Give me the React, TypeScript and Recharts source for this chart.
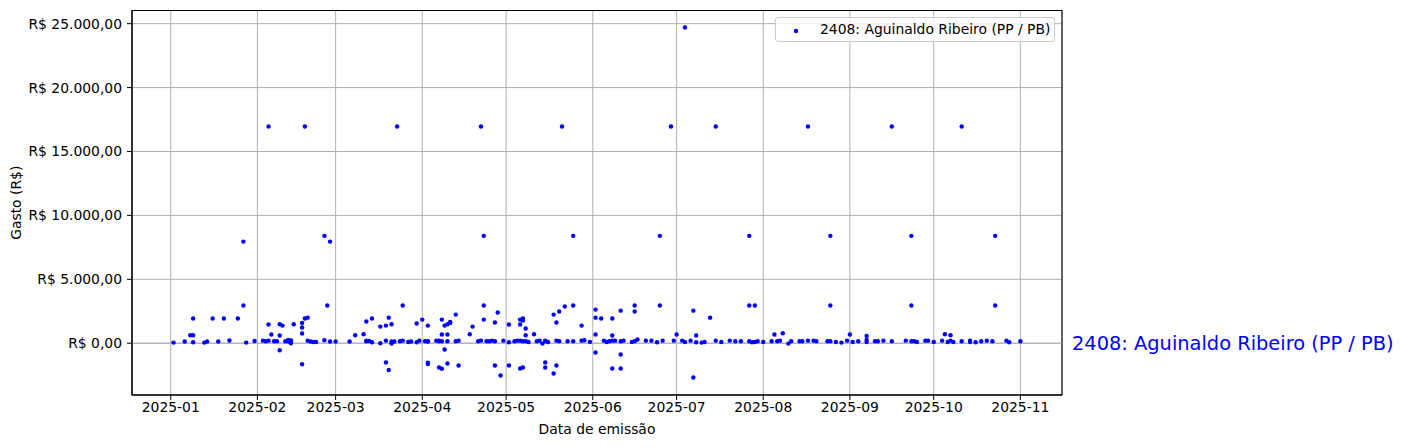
import {
  CartesianGrid,
  Label,
  Legend,
  ReferenceArea,
  ReferenceLine,
  Scatter,
  ScatterChart,
  XAxis,
  YAxis,
} from 'recharts';

const seriesName = '2408: Aguinaldo Ribeiro (PP / PB)';
const monthTicks = [
  '2025-01', '2025-02', '2025-03', '2025-04', '2025-05', '2025-06',
  '2025-07', '2025-08', '2025-09', '2025-10', '2025-11',
];
const valueTicks = [0, 5000, 10000, 15000, 20000, 25000];

// [day of month, amount in R$] for each month of 2025
const jan: [number, number][] = [
  [2, 50], [6, 130], [8, 620], [9, 620], [9, 80], [9, 1930], [13, 50], [14, 130],
  [16, 1930], [18, 130], [20, 1930], [22, 210], [25, 1930], [27, 2950], [27, 7950],
  [28, 50], [31, 180],
];
const feb: [number, number][] = [
  [3, 200], [4, 150], [5, 16950], [5, 200], [5, 1460], [6, 680], [7, 150], [8, 150],
  [9, 600], [9, 1480], [9, -550], [10, 1380], [11, 150], [12, 150], [12, 260], [13, 180],
  [13, 0], [13, 210], [14, 1480], [17, 1590], [17, 1230], [17, 760], [17, -1640],
  [18, 1930], [18, 16950], [19, 200], [19, 2000], [20, 130], [21, 100], [22, 100],
  [25, 8400], [25, 230], [26, 2950], [27, 7950], [27, 130],
];
const mar: [number, number][] = [
  [1, 130], [6, 130], [8, 625], [11, 700], [12, 150], [12, 1700], [12, 200], [13, 180],
  [14, 1930], [14, 80], [17, 1300], [17, 0], [19, -1500], [19, 1380], [19, 200],
  [20, 2000], [20, -2100], [21, 130], [21, 1480], [21, -30], [22, 130], [23, 16950],
  [24, 150], [25, 2950], [25, 200], [27, 100], [28, 130], [30, 80], [30, 1540], [31, 200],
];
const apr: [number, number][] = [
  [1, 1850], [2, 150], [3, 1380], [3, -1520], [3, -1620], [3, 150], [3, 130], [6, 200],
  [7, 150], [7, -1900], [7, 200], [8, 150], [8, 1850], [8, -2000], [8, 680], [9, 1380],
  [9, -490], [10, 1480], [10, -1590], [10, 680], [10, 150], [11, 1590], [11, 1660],
  [13, 2240], [13, 150], [14, -1740], [14, 200], [18, 700], [19, 1300], [21, 150],
  [22, 16950], [22, 200], [23, 2950], [23, 1850], [23, 8400], [24, 150], [25, 150],
  [26, 200], [27, 1620], [27, -1740], [27, 150], [28, 2400], [29, -2520], [30, 200],
];
const may: [number, number][] = [
  [2, 1460], [2, -1740], [2, 80], [4, 150], [5, 200], [6, 1850], [6, 1460], [6, -1980],
  [6, 200], [7, 150], [7, 1930], [7, 1770], [7, -1900], [8, 1150], [8, 150], [8, 625],
  [9, 100], [11, 700], [12, 150], [13, 200], [14, -30], [15, 150], [15, -1500],
  [15, -1900], [15, 200], [16, 100], [18, -2370], [18, 2240], [19, -1740], [19, 1620],
  [19, 200], [20, 150], [20, 2480], [21, 16950], [22, 2870], [23, 150], [25, 150],
  [25, 2950], [25, 8400], [28, 1380], [28, 200], [29, 230], [31, 100],
];
const jun: [number, number][] = [
  [2, 2630], [2, 2000], [2, 680], [2, -730], [4, 1930], [5, 200], [6, 100], [7, 150],
  [8, 600], [8, 1930], [8, 200], [8, -1980], [9, 200], [11, 2550], [11, 150], [11, -880],
  [11, -1980], [12, 200], [15, 100], [16, 150], [16, 2950], [16, 2480], [17, 290],
  [20, 200], [22, 200], [24, 80], [25, 2950], [25, 8400], [26, 200], [29, 16950], [30, 200],
];
const jul: [number, number][] = [
  [1, 680], [3, 200], [4, 24700], [4, 100], [6, 200], [7, 2550], [7, -2680], [8, 80],
  [8, 600], [10, 50], [11, 100], [13, 2000], [15, 16950], [15, 200], [17, 100], [20, 200],
  [22, 150], [24, 150], [27, 8400], [27, 2950], [27, 150], [28, 80], [29, 100], [29, 2950],
  [30, 150],
];
const aug: [number, number][] = [
  [1, 100], [4, 150], [5, 680], [6, 150], [7, 200], [8, 780], [10, -30], [11, 150],
  [14, 150], [15, 150], [17, 16950], [17, 200], [19, 200], [20, 150], [24, 150], [25, 150],
  [25, 8400], [25, 2950], [27, 100], [29, 50], [31, 200],
];
const sep: [number, number][] = [
  [1, 680], [2, 100], [4, 150], [7, 260], [7, 570], [7, 100], [10, 150], [11, 150],
  [13, 200], [16, 150], [16, 16950], [21, 200], [23, 150], [23, 8400], [23, 2950],
  [24, 150], [25, 100], [28, 200], [29, 200],
];
const oct: [number, number][] = [
  [1, 100], [4, 200], [5, 700], [6, 100], [7, 625], [7, 200], [8, 100], [11, 150],
  [11, 16950], [14, 200], [14, 100], [16, 80], [18, 150], [20, 200], [22, 150], [23, 8400],
  [23, 2950], [27, 200], [28, 80],
];
const nov: [number, number][] = [[1, 150]];

const months = [jan, feb, mar, apr, may, jun, jul, aug, sep, oct, nov];

const DAY = 86400000;
const START = Date.UTC(2025, 0, 1);
const xDomain = [START - 13.86 * DAY, START + 318.9 * DAY];
const yDomain = [-4050, 26030];

const points = months.flatMap((rows, m) =>
  rows.map(([day, value]) => ({ x: Date.UTC(2025, m, day), y: value })),
);
const xTicks = monthTicks.map((t) => Date.UTC(Number(t.slice(0, 4)), Number(t.slice(5)) - 1, 1));

const FONT = '"DejaVu Sans", sans-serif';

const formatMonth = (t: number) => {
  const d = new Date(t);
  return `${d.getUTCFullYear()}-${String(d.getUTCMonth() + 1).padStart(2, '0')}`;
};

const formatBRL = (v: number) => {
  const [int, dec] = Math.abs(v).toFixed(2).split('.');
  const grouped = int.replace(/\B(?=(\d{3})+(?!\d))/g, '.');
  return `${v < 0 ? '-' : ''}R$ ${grouped},${dec}`;
};

const Dot = (props: any) => <circle cx={props.cx} cy={props.cy} r={2.2} fill="#0000ff" />;

const LegendBox = () => (
  <div
    style={{
      boxSizing: 'border-box',
      width: 280,
      height: 25,
      border: '1px solid #cccccc',
      borderRadius: 3,
      background: 'rgba(255,255,255,0.8)',
      position: 'relative',
      fontFamily: FONT,
      fontSize: 13.9,
      color: '#000',
    }}
  >
    <svg width={10} height={10} style={{ position: 'absolute', left: 15, top: 8 }}>
      <circle cx={5} cy={5} r={2.2} fill="#0000ff" />
    </svg>
    <span style={{ position: 'absolute', left: 44, top: 3, whiteSpace: 'nowrap' }}>{seriesName}</span>
  </div>
);

export default function App() {
  return (
    <div style={{ width: 1387, height: 432, fontFamily: FONT }}>
      <ScatterChart width={1387} height={432} margin={{ top: 2.5, right: 333, left: 0, bottom: 0 }}>
        <CartesianGrid stroke="#b0b0b0" strokeWidth={1} />
        <XAxis
          type="number"
          dataKey="x"
          domain={xDomain}
          ticks={xTicks}
          allowDataOverflow
          tickFormatter={formatMonth}
          height={45}
          tickSize={5}
          tickMargin={2}
          stroke="#000"
          tick={{ fill: '#000', fontSize: 13.9 }}
          interval={0}
        >
          <Label value="Data de emissão" position="insideBottom" offset={6} fill="#000" fontSize={13.9} />
        </XAxis>
        <YAxis
          type="number"
          dataKey="y"
          domain={yDomain}
          ticks={valueTicks}
          allowDataOverflow
          tickFormatter={formatBRL}
          width={124}
          tickSize={5}
          tickMargin={5}
          stroke="#000"
          tick={{ fill: '#000', fontSize: 13.9 }}
          interval={0}
        >
          <Label
            value="Gasto (R$)"
            angle={-90}
            position="insideLeft"
            offset={8}
            fill="#000"
            fontSize={13.9}
            style={{ textAnchor: 'middle' }}
          />
        </YAxis>
        <ReferenceLine
          y={0}
          stroke="#b0b0b0"
          label={{ value: seriesName, position: 'right', offset: 10, fill: '#0000ff', fontSize: 19.4 }}
        />
        <Scatter name={seriesName} data={points} shape={Dot} isAnimationActive={false} />
        <ReferenceArea
          x1={xDomain[0]}
          x2={xDomain[1]}
          y1={yDomain[0]}
          y2={yDomain[1]}
          fill="none"
          stroke="#000"
          strokeWidth={1.1}
        />
        <Legend
          layout="horizontal"
          verticalAlign="middle"
          align="center"
          content={() => <LegendBox />}
          wrapperStyle={{ left: 767, top: 9, width: 280 }}
        />
      </ScatterChart>
    </div>
  );
}
